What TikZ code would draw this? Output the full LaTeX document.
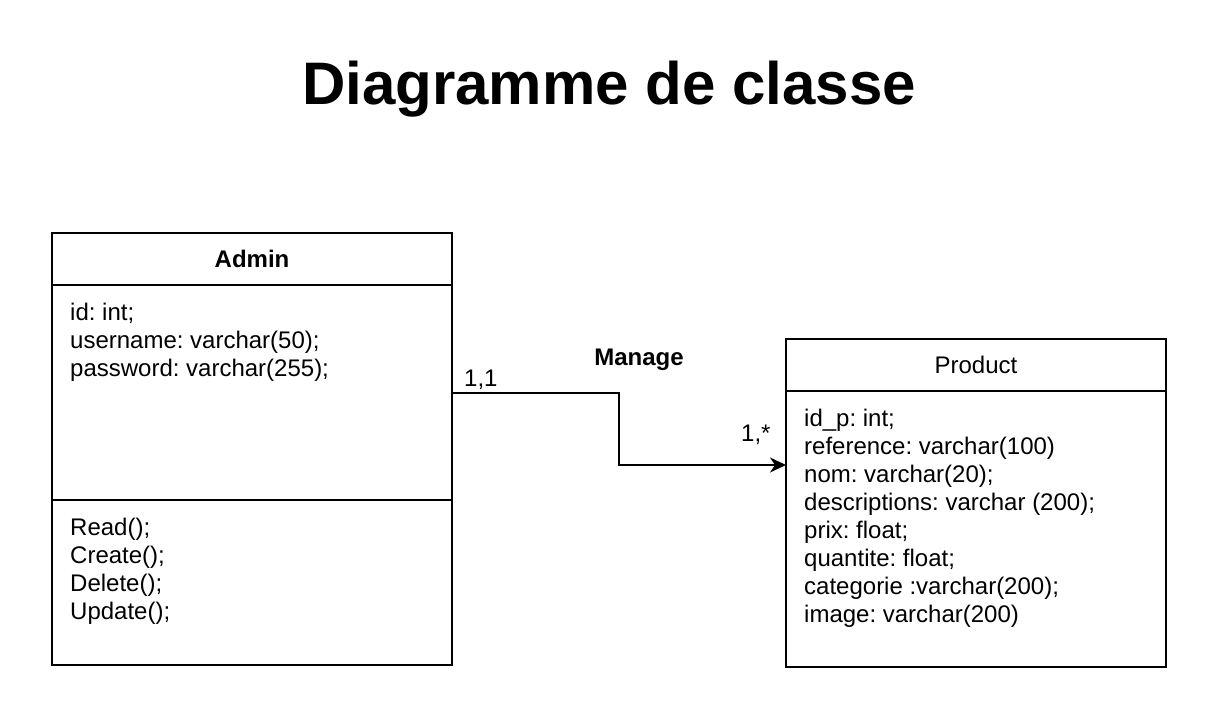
\documentclass[tikz,border=0pt]{standalone}
\usepackage{fontspec}
\setmainfont{Liberation Sans}
\usetikzlibrary{arrows.meta, positioning}
\frenchspacing
\newcommand{\umlfont}{\fontsize{24}{28}\selectfont}
\tikzstyle{classbox} = [rectangle, text centered, draw=black, line width=2pt, inner sep=0pt, outer sep=0pt, font=\umlfont]
\tikzstyle{classtext} = [anchor=north west, align=left, inner sep=0pt, font=\umlfont]
\tikzstyle{mult} = [anchor=base west, inner sep=0pt, font=\umlfont]
\tikzstyle{assoc} = [line width=2pt, -{Stealth[length=16pt, width=15pt, inset=5pt]}]

\begin{document}
\begin{tikzpicture}[x=1pt, y=-1pt]
    \useasboundingbox (0,0) rectangle (1216,722);
    \node (title) [anchor=base, inner sep=0pt] at (609,105) {\fontsize{60}{72}\selectfont\bfseries Diagramme de classe};

    \node (adminHead) [classbox, minimum width=400pt, minimum height=52pt, anchor=north west] at (52,233) {\bfseries Admin};
    \node (adminAttr) [classbox, minimum width=400pt, minimum height=215pt, below=0pt of adminHead] {};
    \node (adminOps)  [classbox, minimum width=400pt, minimum height=165pt, below=0pt of adminAttr] {};
    \node (adminAttrText) [classtext] at ([xshift=18pt, yshift=-18pt]adminAttr.north west) {id: int;\\username: varchar(50);\\password: varchar(255);};
    \node (adminOpsText)  [classtext] at ([xshift=18pt, yshift=-18pt]adminOps.north west) {Read();\\Create();\\Delete();\\Update();};

    \node (prodHead) [classbox, minimum width=380pt, minimum height=52pt, anchor=north west] at (786,339) {Product};
    \node (prodAttr) [classbox, minimum width=380pt, minimum height=276pt, below=0pt of prodHead] {};
    \node (prodAttrText) [classtext] at ([xshift=18pt, yshift=-18pt]prodAttr.north west) {id\_p: int;\\reference: varchar(100)\\nom: varchar(20);\\descriptions: varchar (200);\\prix: float;\\quantite: float;\\categorie :varchar(200);\\image: varchar(200)};

    \draw [assoc] (adminAttr.east) -- ++(167,0) |- ([yshift=-74pt]prodAttr.north west);

    \node (manage) [anchor=base, inner sep=0pt, font=\umlfont\bfseries] at (639,365) {Manage};
    \node (multAdmin) [mult] at (464,386) {1,1};
    \node (multProd)  [mult] at (741,441) {1,*};
\end{tikzpicture}
\end{document}
